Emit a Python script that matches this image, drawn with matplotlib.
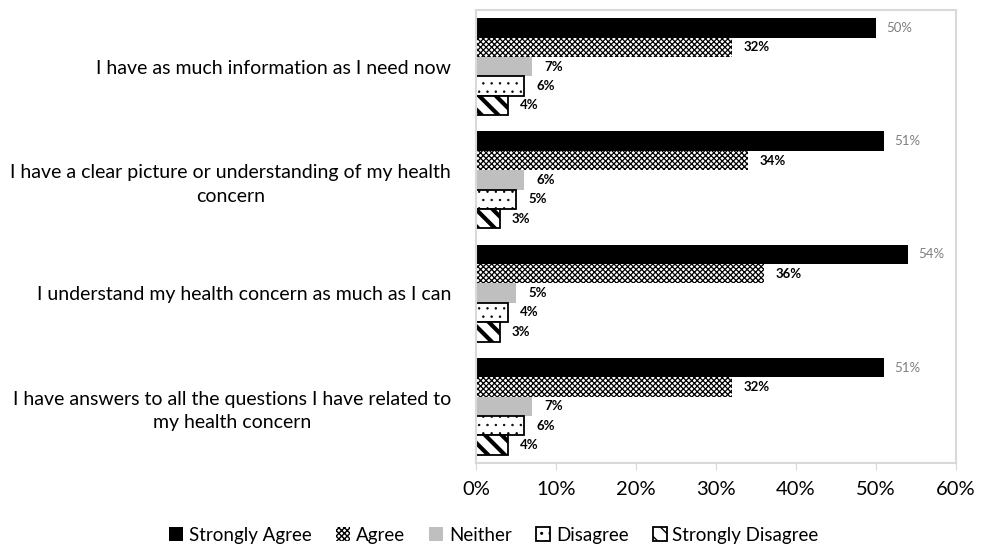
import numpy as np
import matplotlib
matplotlib.use('Agg')
import matplotlib.pyplot as plt

plt.rcParams['font.family'] = ['Lato', 'DejaVu Sans']

questions = ['I have as much information as I need now',
             'I have a clear picture or understanding of my health\nconcern',
             'I understand my health concern as much as I can',
             'I have answers to all the questions I have related to\nmy health concern']
responses = ['Strongly Agree', 'Agree', 'Neither', 'Disagree', 'Strongly Disagree']
strongly_agree = [50, 51, 54, 51]
agree = [32, 34, 36, 32]
neither = [7, 6, 5, 7]
disagree = [6, 5, 4, 6]
strongly_disagree = [4, 3, 3, 4]
x_ticks = [0, 10, 20, 30, 40, 50, 60]

series = [strongly_agree, agree, neither, disagree, strongly_disagree]
styles = [dict(color='black', edgecolor='black', linewidth=0),
          dict(color='white', edgecolor='black', hatch='xxxxxx', linewidth=0),
          dict(color='#BFBFBF', linewidth=0),
          dict(color='white', edgecolor='black', hatch='..', linewidth=1.3),
          dict(color='white', edgecolor='black', hatch='\\\\', linewidth=1.3)]
hatch_lw = [1.0, 0.9, 1.0, 0.5, 3.0]

fig = plt.figure(figsize=(9.88, 5.47), dpi=100)
ax = fig.add_axes([0.4818, 0.1536, 0.4858, 0.8281])

y = np.arange(len(questions))
h = 0.171
handles = []
for i, (vals, st) in enumerate(zip(series, styles)):
    with plt.rc_context({'hatch.linewidth': hatch_lw[i]}):
        bars = ax.barh(y + (i - 2) * h, vals, height=h, label=responses[i], **st)
    handles.append(bars)
    for yy, v in zip(y + (i - 2) * h, vals):
        if i == 0:
            ax.annotate('%d%%' % v, (v, yy), xytext=(10, 0), textcoords='offset pixels',
                        va='center', ha='left', fontsize=9.5, color='#7F7F7F')
        else:
            ax.annotate('%d%%' % v, (v, yy), xytext=(12, 0), textcoords='offset pixels',
                        va='center', ha='left', fontsize=9.5, color='black', fontweight='bold')

ax.set_ylim(3.5, -0.5)
ax.set_xlim(0, 60)
ax.set_xticks(x_ticks)
ax.set_xticklabels(['%d%%' % t for t in x_ticks], fontsize=14.5)
ax.set_yticks(y)
ax.set_yticklabels(questions, fontsize=14, multialignment='center', linespacing=1.45)
ax.tick_params(axis='y', length=0, pad=18)
ax.tick_params(axis='x', length=5, color='#D9D9D9', pad=8)
for s in ax.spines.values():
    s.set_color('#D9D9D9')
    s.set_linewidth(1.5)

fig.legend(handles=handles, loc='lower center', ncol=5, frameon=False, fontsize=13.5,
           bbox_to_anchor=(0.5, -0.025), handlelength=0.75, handleheight=0.75,
           handletextpad=0.3, columnspacing=1.3)

fig.savefig('out.png', dpi=100)
